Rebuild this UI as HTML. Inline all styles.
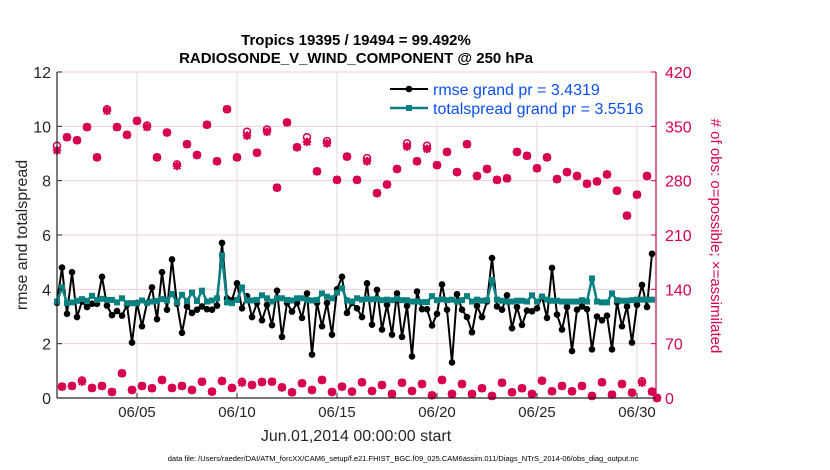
<!DOCTYPE html>
<html><head><meta charset="utf-8"><style>
body{margin:0;background:#fff;}
svg{display:block;font-family:"Liberation Sans",sans-serif;}
</style></head><body>
<svg id="chart" width="830" height="470">
<text x="356" y="45" text-anchor="middle" font-size="15" font-weight="bold">Tropics 19395 / 19494 = 99.492%</text>
<text x="356" y="63" text-anchor="middle" font-size="15" font-weight="bold">RADIOSONDE_V_WIND_COMPONENT @ 250 hPa</text>
<g id="grid"></g>
<g id="marks"></g>
<g id="axes"></g>
<text transform="translate(27,235) rotate(-90)" text-anchor="middle" font-size="16" fill="#262626">rmse and totalspread</text>
<text transform="translate(711,236) rotate(90)" text-anchor="middle" font-size="15" fill="#d6004f"># of obs: o=possible; ×=assimilated</text>
<text x="356" y="441" text-anchor="middle" font-size="16" fill="#262626">Jun.01,2014 00:00:00 start</text>
<text x="403" y="461" text-anchor="middle" font-size="7.5" fill="#000">data file: /Users/raeder/DAI/ATM_forcXX/CAM6_setup/f.e21.FHIST_BGC.f09_025.CAM6assim.011/Diags_NTrS_2014-06/obs_diag_output.nc</text>
<g>
<rect x="385" y="73" width="268" height="48" fill="#fff"/>
<line x1="390" y1="89" x2="428" y2="89" stroke="#000" stroke-width="2"/>
<circle cx="409" cy="89" r="3.3" fill="#000"/>
<text x="433" y="95" font-size="16" fill="#0a50f0">rmse grand pr = 3.4319</text>
<line x1="390" y1="108" x2="428" y2="108" stroke="#0a8080" stroke-width="2.5"/>
<rect x="406" y="105" width="6" height="6" fill="#0a8080"/>
<text x="433" y="114" font-size="16" fill="#0a50f0">totalspread grand pr = 3.5516</text>
</g>
</svg>
<script>
const rmse=[3.5,4.8,3.1,4.63,2.98,3.55,3.35,3.47,3.47,4.46,3.4,3.05,3.2,3.03,3.43,2.04,3.5,2.64,3.5,4.07,2.9,4.63,3.25,5.1,3.47,2.4,3.37,3.13,3.25,3.37,3.27,3.25,
3.4,5.71,3.67,3.6,4.22,3.3,3.75,2.98,3.5,2.86,3.43,2.68,3.95,2.25,3.5,3.18,3.5,2.95,3.85,1.6,3.5,2.64,3.5,2.33,4.0,4.46,3.13,3.5,3.3,2.98,4.22,
2.7,3.98,2.52,3.43,2.33,3.85,2.25,3.39,1.53,3.92,3.27,3.27,2.67,3.1,4.18,3.25,1.31,3.82,3.25,2.98,2.42,3.39,2.98,3.55,5.15,3.37,3.25,3.78,2.57,
3.35,2.69,3.22,3.19,3.3,3.73,2.95,4.79,3.07,2.52,3.35,1.73,3.25,3.37,3.27,1.79,3.0,2.86,3.03,1.79,3.52,2.64,3.37,2.04,3.43,4.16,3.35,5.31];
const spread=[3.55,4.07,3.5,3.52,3.58,3.64,3.58,3.76,3.61,3.65,3.61,3.61,3.52,3.67,3.49,3.49,3.49,3.59,3.5,3.55,3.57,3.64,3.59,3.83,3.52,3.8,3.57,3.88,3.57,3.95,3.55,3.59,
3.67,5.25,3.52,3.49,3.61,4.07,3.59,3.59,3.61,3.78,3.67,3.55,3.67,3.67,3.61,3.59,3.67,3.67,3.61,3.59,3.61,3.85,3.73,3.67,3.88,4.04,3.59,3.55,3.67,
3.62,3.65,3.63,3.65,3.6,3.62,3.6,3.65,3.6,3.6,3.55,3.55,3.53,3.53,3.75,3.6,3.63,3.6,3.62,3.55,3.6,3.75,3.55,3.62,3.58,3.6,4.34,3.62,3.58,3.55,3.55,
3.58,3.58,3.55,3.78,3.55,3.73,3.62,3.58,3.58,3.55,3.55,3.55,3.55,3.6,3.55,4.4,3.55,3.52,3.52,3.85,3.6,3.58,3.58,3.6,3.62,3.62,3.62,3.62];
const assimMain=[319,336,332,349,310,370,349,339,357,349,310,342,299,327,313,352,305,372,310,338,316,343,271,355,323,330,292,328,281,311,281,305,264,275,295,324,305,321,300,317,291,327,286,295,281,283,317,312,296,310,282,291,286,276,279,288,267,235,262,286,0];
const possMain=[325,336,332,349,310,372,349,339,357,351,310,342,301,327,313,352,305,372,310,343,316,346,271,355,323,336,292,331,281,311,281,309,264,275,295,328,305,325,300,317,291,327,286,295,281,283,317,312,296,310,282,291,286,276,279,288,267,235,262,286,0];
const assimOff=[14.6,15.5,21,12.9,15.5,7.7,31.8,10.3,15.5,12.5,23.2,12.9,15.5,10.3,21,8.2,21.9,12.9,19.7,16.7,20.6,21,13.7,7.3,18.9,10.3,23.2,7.7,14.6,8.2,
20.2,9,16.7,5.2,19.7,9,18,3.4,23.2,5.2,18,5.2,12.5,2.6,19.7,7.3,12.5,5.2,22.3,8.6,15.5,8.6,15.5,2.6,20.2,4.3,18,6.9,19.7,8.2];
const possOff=[14.6,15.5,22.5,12.9,15.5,7.7,31.8,10.3,15.5,12.5,23.2,12.9,15.5,10.3,21,8.2,21.9,12.9,21,16.7,20.6,21,13.7,7.3,18.9,10.3,23.2,7.7,14.6,8.2,
20.2,9,16.7,5.2,19.7,9,18,3.4,23.2,5.2,18,5.2,12.5,2.6,19.7,7.3,12.5,5.2,22.3,8.6,15.5,8.6,15.5,2.6,20.2,4.3,18,6.9,21.5,8.2];
const leftTicks=[0,2,4,6,8,10,12];
const rightTicks=[0,70,140,210,280,350,420];
const dayTicks=[4,9,14,19,24,29];
const dayLabels=["06/05","06/10","06/15","06/20","06/25","06/30"];

const X0=57,X1=656,Y0=398,Y1=72,D0=0,D1=29.95;
const xs=d=>X0+(d-D0)/(D1-D0)*(X1-X0);
const yl=v=>Y0-v/12*(Y0-Y1);
const yr=v=>Y0-v/420*(Y0-Y1);
const NS="http://www.w3.org/2000/svg";
function mk(tag,attrs,parent){const e=document.createElementNS(NS,tag);for(const k in attrs)e.setAttribute(k,attrs[k]);parent.appendChild(e);return e;}
const grid=document.getElementById('grid'),marks=document.getElementById('marks'),axes=document.getElementById('axes');
const CR="#d6004f";
dayTicks.forEach((d,i)=>{
  const g=mk('line',{x1:xs(d),x2:xs(d),y1:Y1,y2:Y0,stroke:"#dcdcdc","stroke-width":1},grid);
  
  
  const t=mk('line',{x1:xs(d),x2:xs(d),y1:Y0,y2:Y0-5,stroke:"#262626","stroke-width":1},axes);
  
  
  const l=mk('text',{x:xs(d),y:Y0+19,"text-anchor":"middle","font-size":15,fill:"#262626"},axes);
  l.textContent=dayLabels[i];
  
  
});
rightTicks.forEach(v=>{
  const g=mk('line',{x1:X0,x2:X1,y1:yr(v),y2:yr(v),stroke:"#f3cddb","stroke-width":1},grid);
  
  
  const t=mk('line',{x1:X1,x2:X1-5,y1:yr(v),y2:yr(v),stroke:CR,"stroke-width":1},axes);
  
  
  const l=mk('text',{x:X1+9,y:yr(v)+6,"font-size":16,fill:CR},axes);
  l.textContent=v;
  
  
});
leftTicks.forEach(v=>{
  const t=mk('line',{x1:X0,x2:X0+5,y1:yl(v),y2:yl(v),stroke:"#262626","stroke-width":1},axes);
  
  
  const l=mk('text',{x:X0-6,y:yl(v)+6,"text-anchor":"end","font-size":16,fill:"#262626"},axes);
  l.textContent=v;
  
  
});
const al=mk('line',{x1:X0,x2:X0,y1:Y1,y2:Y0,stroke:"#262626","stroke-width":1.2},axes);


const ab=mk('line',{x1:X0,x2:X1,y1:Y0,y2:Y0,stroke:"#262626","stroke-width":1.2},axes);


const ar=mk('line',{x1:X1,x2:X1,y1:Y1,y2:Y0,stroke:CR,"stroke-width":1.2},axes);



// obs counts
function star(x,y,name){
  const g=mk('g',{stroke:CR,"stroke-width":2.2,fill:"none"},marks);
  
  
  const r=4.2,r2=3.2;
  mk('path',{d:`M${x-r} ${y}H${x+r}M${x} ${y-r}V${y+r}M${x-r2} ${y-r2}L${x+r2} ${y+r2}M${x-r2} ${y+r2}L${x+r2} ${y-r2}`},g);
}
function ring(x,y,name){
  const c=mk('circle',{cx:x,cy:y,r:3.5,stroke:CR,"stroke-width":1.5,fill:"none"},marks);
  
  
}
possMain.forEach((v,j)=>ring(xs(j*0.5),yr(v),'possible-obs-marker'));
possOff.forEach((v,j)=>ring(xs(0.25+j*0.5),yr(v),'possible-obs-marker'));
assimMain.forEach((v,j)=>star(xs(j*0.5),yr(v),'assimilated-obs-marker'));
assimOff.forEach((v,j)=>star(xs(0.25+j*0.5),yr(v),'assimilated-obs-marker'));

// rmse line
const rp=mk('polyline',{points:rmse.map((v,i)=>xs(i*0.25)+","+yl(v)).join(" "),fill:"none",stroke:"#000","stroke-width":2},marks);


rmse.forEach((v,i)=>{
  const c=mk('circle',{cx:xs(i*0.25),cy:yl(v),r:3.3,fill:"#000"},marks);
  
  
});
const sp=mk('polyline',{points:spread.map((v,i)=>xs(i*0.25)+","+yl(v)).join(" "),fill:"none",stroke:"#0a8080","stroke-width":2.5},marks);


spread.forEach((v,i)=>{
  const r=mk('rect',{x:xs(i*0.25)-3,y:yl(v)-3,width:6,height:6,fill:"#0a8080"},marks);
  
  
});
</script>
</body></html>
